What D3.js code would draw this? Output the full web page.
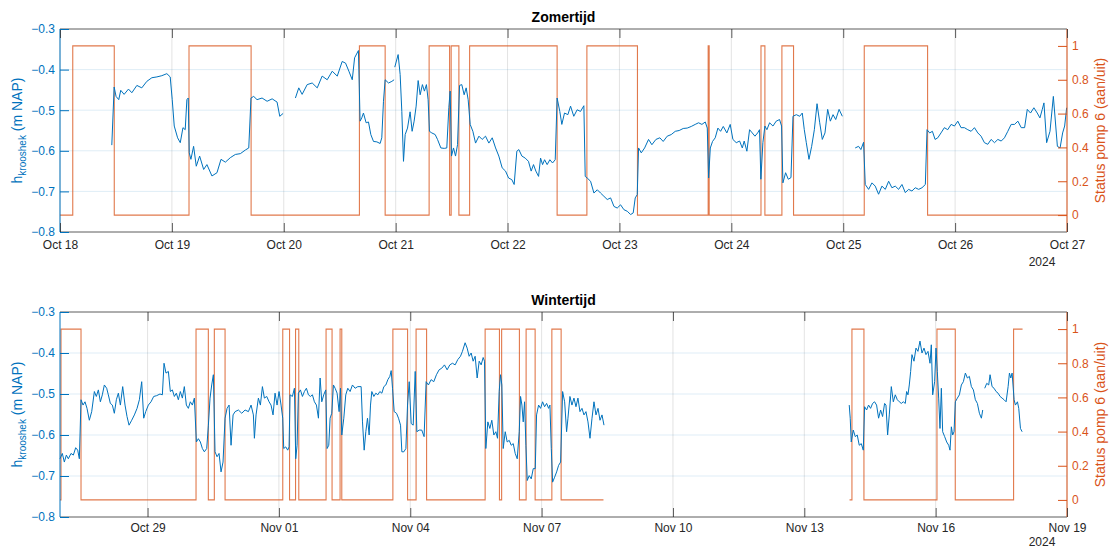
<!DOCTYPE html>
<html>
<head>
  <meta charset="utf-8">
  <style>
    body {
      margin: 0;
      background: white;
    }
    svg {
      font-family: "Liberation Sans", Arial, Helvetica, sans-serif;
    }
    .domain { display: none; }
  </style>
</head>
<body>
  <script src="https://d3js.org/d3.v7.min.js"></script>
  <script>
    var width = 1109, height = 549;

    // Zomertijd: tijd in dagen vanaf 18 okt 2024 00:00, niveau in m NAP (null = gat)
    var zomerTijd = [0.463,0.484,0.501,0.525,0.543,0.573,0.612,0.642,0.687,0.731,0.776,0.821,0.866,0.910,0.955,0.985,1.003,1.021,1.051,1.075,1.099,1.119,1.134,1.146,1.155,1.170,1.194,1.218,1.248,1.284,1.313,1.358,1.403,1.439,1.478,1.522,1.567,1.612,1.657,1.687,1.707,1.731,1.761,1.806,1.851,1.896,1.940,1.964,1.994,2.05,
      2.104,2.134,2.164,2.209,2.254,2.299,2.343,2.388,2.433,2.478,2.522,2.552,2.582,2.612,2.633,2.667,2.682,2.697,2.712,2.736,2.757,2.778,2.802,2.832,2.861,2.876,2.891,2.906,2.936,2.966,2.986,2.989,
      2.992,3.022,3.040,3.055,3.070,3.085,3.106,3.129,3.147,3.165,3.183,3.201,3.219,3.239,3.257,3.275,3.290,3.302,3.323,3.353,3.374,3.404,3.434,3.457,3.475,3.487,3.499,3.517,3.535,3.553,3.571,3.591,3.612,3.630,3.648,3.666,3.690,3.714,3.744,3.773,3.803,3.833,3.863,3.893,3.922,3.952,3.982,4.009,4.038,4.059,4.083,4.101,4.128,4.158,4.187,
      4.211,4.232,4.253,4.277,4.295,4.313,4.331,4.354,4.378,4.402,4.426,4.443,4.467,4.485,4.509,4.539,4.563,4.592,4.622,4.652,4.682,4.694,4.712,4.742,4.772,4.802,4.831,4.861,4.891,4.921,4.951,4.980,5.010,5.040,5.070,5.100,5.123,5.141,5.159,5.171,5.195,5.225,5.260,5.290,5.326,5.361,5.391,5.427,5.463,5.499,5.534,5.570,5.606,5.642,5.677,5.707,5.737,5.767,5.785,5.797,5.812,5.832,5.856,5.880,5.904,5.928,
      5.960,5.990,6.014,6.044,6.074,6.098,6.115,6.139,6.163,6.187,6.211,6.235,6.252,6.264,6.282,6.300,6.318,6.342,6.372,6.401,6.431,6.449,6.461,6.485,6.509,6.533,6.551,6.581,6.611,6.634,6.652,6.670,6.694,6.718,6.742,6.766,6.790,6.813,6.837,6.861,6.885,6.909,6.933,6.963,6.992,7.05,
      7.107,7.137,7.158,7.182,7.197,7.227,7.257,7.286,7.316,7.346,7.376,7.406,7.435,7.465,7.495,7.525,7.555,7.584,7.614,7.644,7.674,7.704,7.734,7.749,7.773,7.797,7.821,7.845,7.874,7.904,7.934,7.964,7.994,8.024,8.053,8.083,8.113,8.143,8.173,8.203,8.232,8.262,8.292,8.322,8.352,8.382,8.412,8.441,8.471,8.501,8.531,8.561,8.591,8.621,8.645,8.674,8.704,8.734,8.758,8.779,8.794,8.818,8.848,8.878,8.914,8.938,8.961,8.979,8.997];
    var zomerNiveau = [-0.586,-0.443,-0.466,-0.474,-0.451,-0.461,-0.448,-0.457,-0.439,-0.445,-0.429,-0.420,-0.418,-0.415,-0.410,-0.418,-0.474,-0.539,-0.568,-0.580,-0.543,-0.548,-0.474,-0.470,-0.605,-0.621,-0.589,-0.638,-0.613,-0.646,-0.634,-0.662,-0.654,-0.621,-0.628,-0.617,-0.609,-0.607,-0.598,-0.593,-0.470,-0.466,-0.474,-0.470,-0.478,-0.472,-0.480,-0.515,-0.508,null,
      -0.470,-0.445,-0.461,-0.437,-0.433,-0.445,-0.416,-0.425,-0.404,-0.416,-0.380,-0.384,-0.404,-0.425,-0.371,-0.353,-0.527,-0.519,-0.507,-0.531,-0.529,-0.560,-0.577,-0.578,-0.582,-0.568,-0.478,-0.425,-0.433,-0.429,-0.425,null,
      -0.394,-0.363,-0.412,-0.503,-0.626,-0.560,-0.544,-0.504,-0.552,-0.527,-0.490,-0.427,-0.462,-0.437,-0.453,-0.437,-0.474,-0.552,-0.556,-0.560,-0.572,-0.593,-0.594,-0.593,-0.494,-0.453,-0.613,-0.593,-0.613,-0.585,-0.439,-0.437,-0.462,-0.445,-0.474,-0.535,-0.552,-0.581,-0.564,-0.572,-0.564,-0.581,-0.568,-0.593,-0.613,-0.642,-0.650,-0.667,-0.671,-0.683,-0.601,-0.597,-0.613,-0.618,-0.626,
      -0.650,-0.634,-0.650,-0.663,-0.618,-0.634,-0.622,-0.634,-0.622,-0.630,-0.622,-0.470,-0.503,-0.535,-0.507,-0.511,-0.490,-0.515,-0.499,-0.503,-0.489,-0.663,-0.667,-0.675,-0.704,-0.696,-0.704,-0.712,-0.720,-0.716,-0.737,-0.741,-0.733,-0.745,-0.749,-0.757,-0.753,-0.716,-0.708,-0.593,-0.605,-0.593,-0.572,-0.585,-0.572,-0.568,-0.577,-0.564,-0.560,-0.552,-0.550,-0.545,-0.544,-0.540,-0.535,-0.531,-0.535,-0.529,-0.544,-0.667,-0.593,-0.577,-0.568,-0.544,-0.552,-0.540,
      -0.556,-0.535,-0.572,-0.580,-0.576,-0.593,-0.576,-0.601,-0.548,-0.556,-0.564,-0.556,-0.548,-0.670,-0.580,-0.539,-0.548,-0.531,-0.539,-0.527,-0.523,-0.539,-0.679,-0.654,-0.670,-0.666,-0.515,-0.511,-0.515,-0.507,-0.548,-0.580,-0.621,-0.589,-0.548,-0.484,-0.531,-0.572,-0.556,-0.498,-0.527,-0.511,-0.523,-0.498,-0.515,null,
      -0.593,-0.589,-0.597,-0.579,-0.683,-0.695,-0.679,-0.687,-0.707,-0.687,-0.695,-0.675,-0.691,-0.687,-0.695,-0.683,-0.703,-0.695,-0.699,-0.691,-0.695,-0.691,-0.683,-0.548,-0.556,-0.552,-0.572,-0.568,-0.556,-0.543,-0.548,-0.535,-0.539,-0.527,-0.543,-0.543,-0.548,-0.552,-0.543,-0.556,-0.564,-0.580,-0.584,-0.572,-0.580,-0.572,-0.576,-0.568,-0.552,-0.535,-0.535,-0.527,-0.543,-0.543,-0.498,-0.507,-0.494,-0.507,-0.519,-0.498,-0.482,-0.580,-0.552,-0.466,-0.589,-0.593,-0.556,-0.539,-0.494];

    // Wintertijd: tijd in dagen vanaf 27 okt 2024 00:00
    var winterTijd = [0.000,0.053,0.099,0.145,0.190,0.251,0.305,0.358,0.404,0.442,0.480,0.526,0.571,0.617,0.670,0.724,0.785,0.830,0.876,0.922,0.967,1.013,1.066,1.104,1.150,1.196,1.241,1.287,1.333,1.379,1.432,1.485,1.531,1.577,1.638,1.699,1.760,1.813,1.866,1.912,1.958,2.018,2.079,2.140,2.208,2.284,2.338,2.376,2.421,2.475,2.520,2.566,2.612,2.657,2.703,2.749,2.795,2.840,2.886,2.932,2.977,3.023,3.069,3.115,3.160,3.206,3.252,3.297,3.351,3.389,3.427,3.465,3.503,3.541,3.587,3.633,3.678,3.724,3.770,3.816,3.862,3.907,3.953,3.999,4.075,
      4.151,4.227,4.303,4.364,4.417,4.440,4.478,4.531,4.577,4.623,4.668,4.722,4.775,4.820,4.866,4.912,4.958,5.003,5.049,5.087,5.110,5.156,5.201,5.232,5.255,5.308,5.354,5.384,5.415,5.445,5.491,5.537,5.582,5.628,5.674,5.720,5.765,5.811,5.857,5.903,5.941,5.979,6.024,6.070,6.101,6.139,6.169,6.207,6.245,6.284,6.329,6.375,6.406,6.436,6.482,6.527,6.573,6.626,6.680,6.741,6.802,6.878,6.909,6.947,6.985,7.023,7.061,7.092,7.122,7.168,7.214,7.259,7.305,7.351,7.397,7.442,7.488,7.534,7.564,7.595,7.633,7.686,7.732,7.778,7.808,7.854,7.900,7.938,7.976,8.021,8.067,8.113,8.151,8.204,
      8.263,8.316,8.362,8.415,8.476,8.537,8.598,8.659,8.720,8.781,8.842,8.903,8.964,9.025,9.086,9.147,9.192,9.253,9.299,9.345,9.391,9.436,9.482,9.528,9.574,9.619,9.665,9.696,9.726,9.772,9.818,9.863,9.909,9.955,9.993,10.031,10.062,10.092,10.123,10.169,10.214,10.260,10.306,10.352,10.397,10.443,10.489,10.519,10.550,10.580,10.611,10.641,10.672,10.717,10.763,10.809,10.855,10.885,10.931,10.977,11.022,11.068,11.114,11.160,11.190,11.221,11.251,11.297,11.343,11.388,11.434,11.480,11.526,11.571,11.602,11.647,11.693,11.739,11.785,11.830,11.876,11.922,11.968,12.013,12.059,12.105,12.151,12.196,12.242,12.288,12.334,12.379,12.425,15.0,
      18.026,18.049,18.072,18.118,18.164,18.209,18.255,18.301,18.347,18.377,18.423,18.468,18.514,18.560,18.605,18.651,18.697,18.743,18.788,18.834,18.865,18.903,18.941,18.987,19.033,19.078,19.124,19.170,19.215,19.261,19.307,19.337,19.368,19.398,19.429,19.459,19.505,19.551,19.596,19.642,19.688,19.734,19.779,19.825,19.871,19.901,19.932,19.977,20.008,20.038,20.069,20.099,20.130,20.160,20.206,20.252,20.298,20.328,20.359,20.389,20.420,20.450,20.496,20.542,20.587,20.633,20.679,20.725,20.770,20.816,20.862,20.907,20.953,20.999,21.045,21.075,21.098,
      21.121,21.167,21.212,21.243,21.289,21.334,21.380,21.426,21.472,21.517,21.563,21.609,21.655,21.685,21.716,21.746,21.792,21.822,21.868,21.898,21.937,21.975];
    var winterNiveau = [-0.658,-0.645,-0.666,-0.649,-0.658,-0.645,-0.649,-0.631,-0.637,-0.658,-0.514,-0.527,-0.519,-0.535,-0.564,-0.543,-0.494,-0.506,-0.490,-0.519,-0.502,-0.478,-0.486,-0.502,-0.523,-0.527,-0.547,-0.514,-0.498,-0.527,-0.482,-0.527,-0.555,-0.576,-0.564,-0.551,-0.535,-0.514,-0.470,-0.559,-0.543,-0.527,-0.519,-0.506,-0.504,-0.500,-0.502,-0.425,-0.449,-0.445,-0.494,-0.490,-0.506,-0.498,-0.514,-0.494,-0.510,-0.482,-0.527,-0.535,-0.519,-0.527,-0.510,-0.617,-0.609,-0.617,-0.633,-0.641,-0.633,-0.576,-0.510,-0.478,-0.453,-0.641,-0.653,-0.645,-0.690,-0.666,-0.559,-0.535,-0.527,-0.625,-0.551,-0.543,-0.539,
      -0.547,-0.539,-0.543,-0.527,-0.551,-0.608,-0.551,-0.510,-0.527,-0.482,-0.510,-0.506,-0.519,-0.527,-0.551,-0.498,-0.527,-0.494,-0.527,-0.559,-0.633,-0.629,-0.637,-0.629,-0.502,-0.506,-0.486,-0.658,-0.625,-0.498,-0.490,-0.506,-0.494,-0.486,-0.502,-0.506,-0.502,-0.519,-0.527,-0.559,-0.461,-0.519,-0.502,-0.490,-0.633,-0.625,-0.559,-0.547,-0.478,-0.486,-0.498,-0.543,-0.486,-0.600,-0.559,-0.502,-0.486,-0.494,-0.478,-0.486,-0.482,-0.482,-0.568,-0.637,-0.592,-0.559,-0.600,-0.527,-0.494,-0.506,-0.498,-0.502,-0.494,-0.498,-0.482,-0.478,-0.465,-0.457,-0.443,-0.486,-0.543,-0.547,-0.559,-0.576,-0.641,-0.641,-0.633,-0.527,-0.470,-0.572,-0.576,-0.445,-0.592,-0.588,
      -0.588,-0.604,-0.470,-0.478,-0.465,-0.470,-0.453,-0.441,-0.437,-0.429,-0.441,-0.429,-0.425,-0.429,-0.416,-0.408,-0.396,-0.375,-0.388,-0.408,-0.400,-0.420,-0.408,-0.461,-0.420,-0.429,-0.411,-0.420,-0.633,-0.568,-0.584,-0.564,-0.600,-0.592,-0.608,-0.494,-0.453,-0.478,-0.633,-0.592,-0.617,-0.613,-0.625,-0.621,-0.645,-0.658,-0.592,-0.506,-0.527,-0.568,-0.519,-0.625,-0.711,-0.699,-0.707,-0.682,-0.682,-0.551,-0.527,-0.535,-0.519,-0.531,-0.523,-0.535,-0.527,-0.633,-0.715,-0.703,-0.690,-0.674,-0.666,-0.494,-0.519,-0.592,-0.559,-0.506,-0.527,-0.510,-0.531,-0.510,-0.543,-0.535,-0.551,-0.543,-0.568,-0.608,-0.559,-0.519,-0.551,-0.535,-0.564,-0.551,-0.576,null,
      -0.527,-0.559,-0.617,-0.588,-0.604,-0.600,-0.625,-0.621,-0.637,-0.531,-0.539,-0.527,-0.535,-0.523,-0.519,-0.527,-0.559,-0.539,-0.555,-0.523,-0.527,-0.600,-0.551,-0.482,-0.519,-0.502,-0.514,-0.519,-0.523,-0.519,-0.523,-0.494,-0.502,-0.478,-0.445,-0.404,-0.420,-0.388,-0.396,-0.371,-0.400,-0.388,-0.404,-0.396,-0.425,-0.380,-0.502,-0.470,-0.388,-0.445,-0.510,-0.584,-0.486,-0.592,-0.604,-0.617,-0.625,-0.637,-0.580,-0.600,-0.592,-0.519,-0.510,-0.502,-0.478,-0.470,-0.449,-0.461,-0.457,-0.482,-0.490,-0.514,-0.523,-0.547,-0.559,-0.539,null,
      -0.486,-0.474,-0.478,-0.453,-0.482,-0.486,-0.494,-0.498,-0.506,-0.510,-0.514,-0.519,-0.482,-0.449,-0.461,-0.449,-0.514,-0.527,-0.519,-0.535,-0.584,-0.592];

    // Status pomp 6 (stapfunctie, waarde geldt vanaf tijdstip)
    var pompZomerTijd = [0,0.114,0.485,1.153,1.708,2.676,2.906,3.299,3.482,3.496,3.565,3.661,4.443,4.709,5.161,5.793,5.802,6.265,6.300,6.452,6.556,7.188,7.754,9.0];
    var pompZomerStatus = [0,1,0,1,0,1,0,1,0,1,0,1,0,1,0,1,0,1,0,1,0,1,0,0];
    var pompWinterTijd = [0,0.023,0.480,3.107,3.388,3.525,3.770,5.088,5.243,5.380,5.454,6.077,6.214,6.397,6.436,7.603,7.939,8.133,8.373,9.710,10.037,10.087,10.493,10.646,10.852,11.234,11.446,12.413,15,18.033,18.088,18.362,20.030,20.448,21.780,21.985];
    var pompWinterStatus = [0,1,0,1,0,1,0,1,0,1,0,1,0,1,0,1,0,1,0,1,0,1,0,1,0,1,0,0,null,0,1,0,1,0,1,1];

    var zomerTicks = ["2024-10-18","2024-10-19","2024-10-20","2024-10-21","2024-10-22","2024-10-23","2024-10-24","2024-10-25","2024-10-26","2024-10-27"];
    var winterTicks = ["2024-10-29","2024-11-01","2024-11-04","2024-11-07","2024-11-10","2024-11-13","2024-11-16","2024-11-19"];
    var niveauTicks = [-0.8,-0.7,-0.6,-0.5,-0.4,-0.3];
    var statusTicks = [0,0.2,0.4,0.6,0.8,1];

    var blue = "#0072BD", orange = "#D95319", textCol = "#262626";
    var parseDay = d3.utcParse("%Y-%m-%d");
    var fmt = d3.utcFormat("%b %d");

    var svg = d3.select("body").append("svg")
        .attr("width", width).attr("height", height);
    svg.append("rect").attr("width", width).attr("height", height).attr("fill", "white");

    var left = 60, right = 1067;

    function panel(opts) {
      var top = opts.top, bottom = opts.bottom;
      var t0 = opts.start.getTime();
      var toDate = d => new Date(t0 + d * 864e5);

      var x = d3.scaleUtc().domain([opts.start, opts.end]).range([left, right]);
      var yL = d3.scaleLinear().domain([-0.8, -0.3]).range([bottom, top]);
      var yR = d3.scaleLinear().domain([-0.1, 1.1]).range([bottom, top]);
      var tickDates = opts.ticks.map(parseDay);

      var g = svg.append("g");

      // grid
      g.selectAll(".vgrid").data(tickDates).enter().append("line")
        .attr("x1", d => x(d)).attr("x2", d => x(d))
        .attr("y1", top).attr("y2", bottom)
        .attr("stroke", textCol).attr("stroke-opacity", 0.13);
      g.selectAll(".hgrid").data(niveauTicks.slice(1, -1)).enter().append("line")
        .attr("x1", left).attr("x2", right)
        .attr("y1", d => yL(d)).attr("y2", d => yL(d))
        .attr("stroke", blue).attr("stroke-opacity", 0.13);

      // data
      var niveau = opts.tijd.map((t, i) => [t, opts.niveau[i]]);
      var pomp = opts.pompTijd.map((t, i) => [t, opts.pompStatus[i]]);

      g.append("path").datum(pomp)
        .attr("fill", "none").attr("stroke", orange).attr("stroke-opacity", 0.78)
        .attr("stroke-width", 1.1)
        .attr("d", d3.line().defined(d => d[1] !== null)
          .curve(d3.curveStepAfter)
          .x(d => x(toDate(d[0]))).y(d => yR(d[1])));

      g.append("path").datum(niveau)
        .attr("fill", "none").attr("stroke", blue).attr("stroke-width", 1)
        .attr("d", d3.line().defined(d => d[1] !== null)
          .x(d => x(toDate(d[0]))).y(d => yL(d[1])));

      // box lines
      g.append("line").attr("x1", left).attr("x2", right).attr("y1", top).attr("y2", top)
        .attr("stroke", textCol).attr("stroke-opacity", 0.75);
      g.append("line").attr("x1", left).attr("x2", right).attr("y1", bottom).attr("y2", bottom)
        .attr("stroke", textCol).attr("stroke-opacity", 0.75);
      g.append("line").attr("x1", left).attr("x2", left).attr("y1", top).attr("y2", bottom)
        .attr("stroke", blue);
      g.append("line").attr("x1", right).attr("x2", right).attr("y1", top).attr("y2", bottom)
        .attr("stroke", orange);

      // axes
      var xb = g.append("g").attr("transform", "translate(0," + bottom + ")")
        .call(d3.axisBottom(x).tickValues(tickDates).tickFormat(fmt)
          .tickSizeInner(-9).tickSizeOuter(0).tickPadding(opts.xPad));
      xb.selectAll("line").attr("stroke", textCol).attr("stroke-opacity", 0.75);
      xb.selectAll("text").attr("fill", textCol).attr("font-size", 12)
        .attr("font-family", "Liberation Sans, Arial, sans-serif");

      var xt = g.append("g").attr("transform", "translate(0," + top + ")")
        .call(d3.axisTop(x).tickValues(tickDates).tickFormat("")
          .tickSizeInner(-9).tickSizeOuter(0));
      xt.selectAll("line").attr("stroke", textCol).attr("stroke-opacity", 0.75);

      var yl = g.append("g").attr("transform", "translate(" + left + ",0)")
        .call(d3.axisLeft(yL).tickValues(niveauTicks).tickFormat(d3.format(".1f"))
          .tickSizeInner(-9).tickSizeOuter(0).tickPadding(5));
      yl.selectAll("line").attr("stroke", blue);
      yl.selectAll("text").attr("fill", blue).attr("font-size", 12)
        .attr("font-family", "Liberation Sans, Arial, sans-serif");

      var yr = g.append("g").attr("transform", "translate(" + right + ",0)")
        .call(d3.axisRight(yR).tickValues(statusTicks).tickFormat(d => d3.format("~g")(d))
          .tickSizeInner(-9).tickSizeOuter(0).tickPadding(5));
      yr.selectAll("line").attr("stroke", orange);
      yr.selectAll("text").attr("fill", orange).attr("font-size", 12)
        .attr("font-family", "Liberation Sans, Arial, sans-serif");

      // titles and labels
      svg.append("text").attr("x", (left + right) / 2).attr("y", top - 7)
        .attr("text-anchor", "middle").attr("font-size", 14).attr("font-weight", "bold")
        .attr("fill", "black").text(opts.title);

      svg.append("text").attr("x", 1042).attr("y", opts.yearY)
        .attr("text-anchor", "middle").attr("font-size", 12).attr("fill", textCol)
        .text("2024");

      var mid = (top + bottom) / 2;
      var lab = svg.append("text")
        .attr("transform", "translate(22," + mid + ") rotate(-90)")
        .attr("text-anchor", "middle").attr("font-size", 14).attr("fill", blue);
      lab.append("tspan").text("h");
      lab.append("tspan").attr("font-size", 10).attr("dy", 4).text("krooshek");
      lab.append("tspan").attr("dy", -4).text(" (m NAP)");

      svg.append("text")
        .attr("transform", "translate(1105," + mid + ") rotate(-90)")
        .attr("text-anchor", "middle").attr("font-size", 14).attr("fill", orange)
        .text("Status pomp 6 (aan/uit)");
    }

    panel({
      title: "Zomertijd", top: 29, bottom: 232, xPad: 8, yearY: 266,
      start: new Date(Date.UTC(2024, 9, 18)), end: new Date(Date.UTC(2024, 9, 27)),
      ticks: zomerTicks, tijd: zomerTijd, niveau: zomerNiveau,
      pompTijd: pompZomerTijd, pompStatus: pompZomerStatus
    });

    panel({
      title: "Wintertijd", top: 312, bottom: 517, xPad: 6, yearY: 546,
      start: new Date(Date.UTC(2024, 9, 27)), end: new Date(Date.UTC(2024, 10, 19)),
      ticks: winterTicks, tijd: winterTijd, niveau: winterNiveau,
      pompTijd: pompWinterTijd, pompStatus: pompWinterStatus
    });
  </script>
</body>
</html>
